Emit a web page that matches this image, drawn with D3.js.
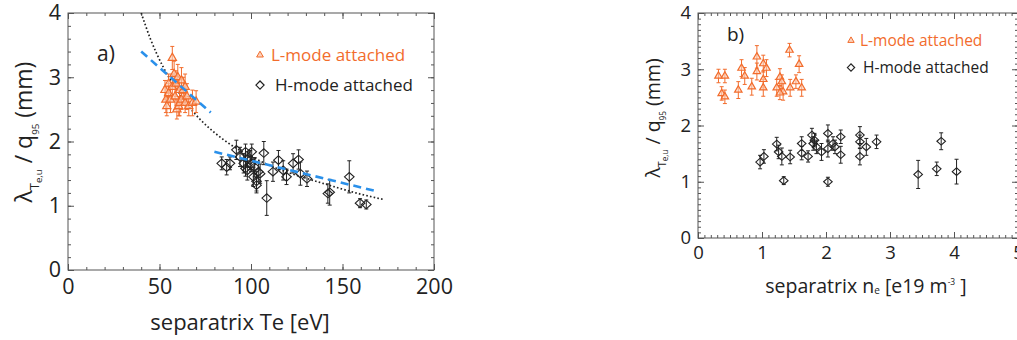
<!DOCTYPE html>
<html>
<head>
<meta charset="UTF-8">
<title>lambda Te vs separatrix Te / ne</title>
<script src="https://d3js.org/d3.v7.min.js"></script>
<style>
  body { margin: 0; background: #fff; }
  svg { display: block; font-family: 'Open Sans', sans-serif; }
  .frame { fill: none; stroke: #555; stroke-width: 1; }
  .tick line { stroke: #555; }
  .tick text { fill: #222; }
</style>
</head>
<body>
<div id="chart"></div>
<script>
// ---- panel a: lambda/q95 vs separatrix Te  [x, y, error]
const lmodeTe = [
  [53, 2.8, 0.15], [53.5, 2.65, 0.2], [54, 2.55, 0.15], [55, 2.9, 0.15], [55, 2.75, 0.15],
  [56, 2.65, 0.2], [57, 3.3, 0.18], [57, 2.85, 0.2], [58, 3.05, 0.2], [58.5, 2.7, 0.2],
  [59, 2.9, 0.2], [59.5, 2.5, 0.15], [60, 3.0, 0.2], [60.5, 2.55, 0.15], [61, 2.8, 0.2],
  [61, 2.6, 0.2], [62, 2.95, 0.2], [62, 2.65, 0.15], [63, 2.8, 0.2], [64, 2.6, 0.15],
  [64, 2.85, 0.2], [65, 2.7, 0.2], [66, 2.55, 0.15], [68, 2.6, 0.2], [70, 2.62, 0.17]
];
const hmodeTe = [
  [84, 1.66, 0.1], [86.7, 1.6, 0.12], [88.5, 1.66, 0.1], [92, 1.87, 0.15], [94, 1.76, 0.15],
  [96, 1.66, 0.15], [97, 1.84, 0.12], [97, 1.58, 0.12], [98, 1.55, 0.15], [98, 1.72, 0.12],
  [99.5, 1.71, 0.15], [100, 1.65, 0.12], [100.4, 1.84, 0.12], [101.3, 1.45, 0.15], [102, 1.6, 0.15],
  [103, 1.38, 0.15], [103, 1.32, 0.12], [104, 1.53, 0.15], [105, 1.5, 0.15], [107, 1.82, 0.18],
  [108.6, 1.12, 0.27], [112, 1.53, 0.15], [115, 1.71, 0.15], [117.6, 1.55, 0.15], [119.4, 1.45, 0.12],
  [123, 1.66, 0.15], [126, 1.72, 0.15], [127, 1.5, 0.18], [130.6, 1.42, 0.12], [142, 1.19, 0.15],
  [143, 1.21, 0.2], [153.7, 1.45, 0.25], [159.6, 1.04, 0.07], [163, 1.02, 0.07]
];
// fits
const fitLmode = [[40, 3.4], [78, 2.45]];
const fitHmode = [[80, 1.84], [168, 1.23]];
const fitPower = [
  [40, 4.0], [45, 3.6], [52, 3.16], [60, 2.78], [65, 2.58], [72, 2.35], [80, 2.14],
  [90, 1.93], [100, 1.77], [110, 1.63], [120, 1.52], [130, 1.43], [145, 1.3], [160, 1.18], [172, 1.1]
];

// ---- panel b: lambda/q95 vs separatrix ne
const lmodeNe = [
  [0.32, 2.88, 0.12], [0.42, 2.88, 0.12], [0.37, 2.57, 0.12], [0.42, 2.51, 0.12], [0.63, 2.63, 0.15],
  [0.68, 3.02, 0.15], [0.73, 2.88, 0.15], [0.84, 2.69, 0.15], [0.92, 3.22, 0.2], [0.92, 2.96, 0.15],
  [1.02, 3.1, 0.15], [1.02, 2.82, 0.15], [1.02, 2.67, 0.15], [1.07, 3.02, 0.15], [1.23, 2.67, 0.15],
  [1.28, 2.86, 0.15], [1.31, 2.78, 0.12], [1.33, 2.6, 0.15], [1.44, 2.67, 0.15], [1.43, 3.34, 0.12],
  [1.53, 2.78, 0.12], [1.58, 3.09, 0.15], [1.62, 2.67, 0.15], [1.28, 2.58, 0.12]
];
const hmodeNe = [
  [0.97, 1.35, 0.12], [1.03, 1.45, 0.12], [1.23, 1.67, 0.12], [1.26, 1.53, 0.12], [1.31, 1.45, 0.15],
  [1.34, 1.02, 0.07], [1.44, 1.44, 0.12], [1.62, 1.68, 0.12], [1.62, 1.51, 0.12], [1.72, 1.45, 0.1],
  [1.78, 1.83, 0.12], [1.8, 1.68, 0.12], [1.82, 1.74, 0.12], [1.85, 1.62, 0.12], [1.93, 1.53, 0.15],
  [2.03, 1.86, 0.15], [2.03, 1.59, 0.15], [2.03, 1.0, 0.08], [2.11, 1.68, 0.12], [2.14, 1.62, 0.12],
  [2.23, 1.8, 0.12], [2.23, 1.48, 0.15], [2.53, 1.83, 0.15], [2.53, 1.71, 0.12], [2.53, 1.45, 0.15],
  [2.63, 1.62, 0.15], [2.79, 1.71, 0.12], [3.44, 1.13, 0.25], [3.73, 1.23, 0.12], [3.8, 1.72, 0.15],
  [4.04, 1.18, 0.22]
];

const yTicks = [0, 1, 2, 3, 4];
const xTicksA = [0, 50, 100, 150, 200];
const xTicksB = [0, 1, 2, 3, 4, 5];

const ORANGE = '#f26c2c', BLUE = '#2a90ea';

const svg = d3.select('#chart').append('svg').attr('width', 1017).attr('height', 340);

function panel(o) {
  const g = svg.append('g');
  const x = d3.scaleLinear().domain(o.xDomain).range([o.left, o.right]);
  const y = d3.scaleLinear().domain([0, 4]).range([o.bottom, o.top]);

  const axes = [
    [d3.axisBottom, x, o.bottom, o.xTicks, o.xMinor, true],
    [d3.axisTop, x, o.top, o.xTicks, o.xMinor, false],
    [d3.axisLeft, y, o.left, yTicks, o.yMinor, true],
    [d3.axisRight, y, o.right, yTicks, o.yMinor, false]
  ];
  axes.forEach(([fn, sc, pos, major, minor, labels]) => {
    const horiz = fn === d3.axisBottom || fn === d3.axisTop;
    const tr = horiz ? `translate(0,${pos})` : `translate(${pos},0)`;
    g.append('g').attr('transform', tr)
      .call(fn(sc).tickValues(minor).tickSize(-3).tickSizeOuter(0).tickFormat(''))
      .call(a => a.select('.domain').remove());
    const ax = g.append('g').attr('transform', tr)
      .call(fn(sc).tickValues(major).tickSize(-6).tickSizeOuter(0)
        .tickPadding(horiz ? o.xPad : o.yPad).tickFormat(labels ? d3.format('d') : ''))
      .call(a => a.select('.domain').remove());
    ax.selectAll('text').attr('font-size', o.tickFont).attr('font-family', "'Open Sans', sans-serif");
  });
  g.append('rect').attr('class', 'frame')
    .attr('x', o.left).attr('y', o.top).attr('width', o.right - o.left).attr('height', o.bottom - o.top);

  // fits
  if (o.fits) {
    g.append('path').datum(fitPower)
      .attr('d', d3.line().x(d => x(d[0])).y(d => y(d[1])).curve(d3.curveMonotoneX))
      .attr('fill', 'none').attr('stroke', '#222').attr('stroke-width', 1.7).attr('stroke-dasharray', '1.6,2.2');
  }

  function errs(data, color) {
    const e = g.append('g').attr('stroke', color).attr('stroke-width', 1);
    data.forEach(d => {
      e.append('line').attr('x1', x(d[0])).attr('x2', x(d[0])).attr('y1', y(d[1] - d[2])).attr('y2', y(d[1] + d[2]));
      [d[1] - d[2], d[1] + d[2]].forEach(v =>
        e.append('line').attr('x1', x(d[0]) - 2).attr('x2', x(d[0]) + 2).attr('y1', y(v)).attr('y2', y(v)));
    });
  }
  errs(o.lmode, ORANGE);
  errs(o.hmode, '#222');

  const tri = d3.symbol().type(d3.symbolTriangle).size(o.triSize);
  g.append('g').selectAll('path').data(o.lmode).join('path')
    .attr('d', tri).attr('transform', d => `translate(${x(d[0])},${y(d[1])})`)
    .attr('fill', '#fbd2bd').attr('fill-opacity', 0.6).attr('stroke', ORANGE).attr('stroke-width', 1.2);
  const dia = o.diaW;
  g.append('g').selectAll('path').data(o.hmode).join('path')
    .attr('d', `M${-dia},0L0,${-dia * 0.9}L${dia},0L0,${dia * 0.9}Z`)
    .attr('transform', d => `translate(${x(d[0])},${y(d[1])})`)
    .attr('fill', 'none').attr('stroke', '#222').attr('stroke-width', 1.1);

  if (o.fits) {
    [fitLmode, fitHmode].forEach(f => g.append('path').datum(f)
      .attr('d', d3.line().x(d => x(d[0])).y(d => y(d[1])))
      .attr('fill', 'none').attr('stroke', BLUE).attr('stroke-width', 2.6).attr('stroke-dasharray', '8,5'));
  }

  // legend
  const L = o.legend;
  g.append('path').attr('d', d3.symbol().type(d3.symbolTriangle).size(L.sym * 2.2)())
    .attr('transform', `translate(${L.x},${L.y1 - L.fs * 0.35})`)
    .attr('fill', '#fbd2bd').attr('stroke', ORANGE).attr('stroke-width', 1);
  g.append('text').attr('x', L.tx).attr('y', L.y1).attr('font-size', L.fs).attr('fill', ORANGE).text('L-mode attached');
  const ds = L.sym / 2.2;
  g.append('path').attr('d', `M${-ds},0L0,${-ds}L${ds},0L0,${ds}Z`)
    .attr('transform', `translate(${L.x},${L.y2 - L.fs * 0.35})`)
    .attr('fill', 'none').attr('stroke', '#222').attr('stroke-width', 1.2);
  g.append('text').attr('x', L.tx2).attr('y', L.y2).attr('font-size', L.fs).attr('fill', '#222').text('H-mode attached');

  g.append('text').attr('x', o.tag[0]).attr('y', o.tag[1]).attr('font-size', o.tag[2]).attr('fill', '#222').text(o.tag[3]);

  // y label
  const yl = g.append('text').attr('transform', `translate(${o.yLab[0]},${o.yLab[1]}) rotate(-90)`)
    .attr('text-anchor', 'middle').attr('font-size', o.yLab[2]).attr('fill', '#222');
  const fs = o.yLab[2];
  yl.append('tspan').text('λ');
  yl.append('tspan').attr('font-size', fs * 0.55).attr('dy', fs * 0.3).text('T');
  yl.append('tspan').attr('font-size', fs * 0.42).attr('dy', fs * 0.12).text('e,u');
  yl.append('tspan').attr('dy', -fs * 0.42).text(' / q');
  yl.append('tspan').attr('font-size', fs * 0.42).attr('dy', fs * 0.3).text('95');
  yl.append('tspan').attr('dy', -fs * 0.3).text(' (mm)');

  return g;
}

const ga = panel({
  left: 68, right: 434, top: 13, bottom: 270,
  xDomain: [0, 200], xTicks: xTicksA, xMinor: d3.range(0, 201, 10), yMinor: d3.range(0, 4.01, 0.2),
  xPad: 9, yPad: 7, tickFont: 21.5,
  lmode: lmodeTe, hmode: hmodeTe, triSize: 30, diaW: 4.8, fits: true,
  legend: { x: 260, tx: 271, tx2: 275, y1: 61, y2: 91, fs: 17, sym: 9 },
  tag: [97, 61, 21, 'a)'],
  yLab: [32, 132, 23]
});
ga.append('text').attr('x', 240).attr('y', 330).attr('text-anchor', 'middle')
  .attr('font-size', 22).attr('fill', '#222').text('separatrix Te [eV]');

const gb = panel({
  left: 698, right: 1018, top: 13, bottom: 238,
  xDomain: [0, 5], xTicks: xTicksB, xMinor: d3.range(0, 5.01, 0.1), yMinor: d3.range(0, 4.01, 0.1),
  xPad: 8, yPad: 7, tickFont: 18.5,
  lmode: lmodeNe, hmode: hmodeNe, triSize: 24, diaW: 4.3, fits: false,
  legend: { x: 851, tx: 860, tx2: 863, y1: 46, y2: 73, fs: 15.5, sym: 8 },
  tag: [727, 41, 19, 'b)'],
  yLab: [660, 118, 19.5]
});
const xl = gb.append('text').attr('x', 866).attr('y', 293).attr('text-anchor', 'middle')
  .attr('font-size', 19.5).attr('fill', '#222');
xl.append('tspan').text('separatrix n');
xl.append('tspan').attr('font-size', 10).attr('dy', 1).text('e');
xl.append('tspan').attr('dy', -1).text(' [e19 m');
xl.append('tspan').attr('font-size', 8.5).attr('dy', -8).text('-3');
xl.append('tspan').attr('dy', 8).text(' ]');
</script>
</body>
</html>
